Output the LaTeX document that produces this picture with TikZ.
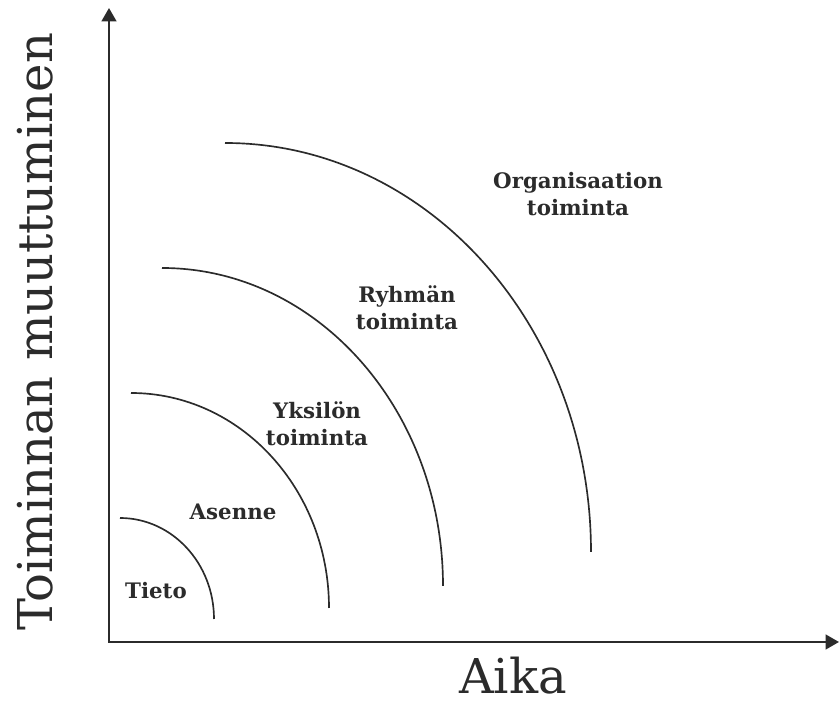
\documentclass[tikz,border=0pt]{standalone}
\usepackage{fontspec}
\setmainfont{DejaVu Serif}
\usetikzlibrary{arrows.meta}
\definecolor{ink}{HTML}{2B2B2B}
\tikzset{
  axis/.style={draw=ink, line width=1.7pt, {Triangle[length=10pt,width=11pt]}-{Triangle[length=10pt,width=11pt]}},
  layer/.style={draw=ink, line width=1.25pt},
  tag/.style={text=ink, font=\bfseries\fontsize{16}{20}\selectfont, align=center, inner sep=0pt},
  axislabel/.style={text=ink, font=\fontsize{36}{40}\selectfont, inner sep=0pt},
}

\begin{document}
\begin{tikzpicture}[x=0.75pt,y=0.75pt]
    \useasboundingbox (0,0) rectangle (839,705);

    \coordinate (origin) at (109,63);
    \coordinate (ytip) at (109,697);
    \coordinate (xtip) at (839,63);
    \draw[axis] (ytip) -- (origin) -- (xtip);

    \draw[layer] (120,187) arc[start angle=90, end angle=0, x radius=94, y radius=101];
    \draw[layer] (131,312) arc[start angle=90, end angle=0, x radius=198, y radius=215];
    \draw[layer] (162,437) arc[start angle=90, end angle=0, x radius=281, y radius=318];
    \draw[layer] (225,562) arc[start angle=90, end angle=0, x radius=366, y radius=409];

    \node[tag] (tieto) at (156,114) {Tieto};
    \node[tag] (asenne) at (233,193) {Asenne};
    \node[tag] (yksilo) at (317,281) {Yksilön\\toiminta};
    \node[tag] (ryhma) at (407,397) {Ryhmän\\toiminta};
    \node[tag] (organisaatio) at (578,511) {Organisaation\\toiminta};

    \node[axislabel, anchor=base] (aika) at (513,11) {Aika};
    \node[axislabel, rotate=90, anchor=base] (muutos) at (52,373) {Toiminnan muuttuminen};
\end{tikzpicture}
\end{document}
